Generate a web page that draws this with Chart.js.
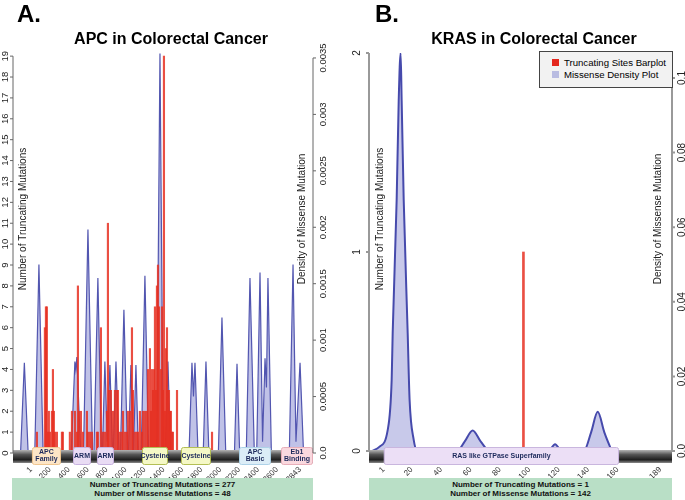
<!DOCTYPE html>
<html>
<head>
<meta charset="utf-8">
<script src="https://cdn.jsdelivr.net/npm/chart.js@4.4.1/dist/chart.umd.min.js"></script>
<style>
  body { margin: 0; background: #fff; font-family: "Liberation Sans", Arial, sans-serif; }
  #wrap { position: relative; width: 685px; height: 500px; overflow: hidden; }
  .box { position: absolute; top: 0; height: 500px; }
  .tag { position: absolute; top: 2px; font-weight: bold; font-size: 24px; line-height: 24px; }
  .title { position: absolute; top: 31px; font-weight: bold; font-size: 16px; line-height: 16px; white-space: nowrap; transform: translateX(-50%); }
  .summary { position: absolute; top: 478px; height: 22px; background: #b9dfc6; font-size: 8px; font-weight: bold;
             line-height: 9px; text-align: center; padding-top: 2px; box-sizing: border-box; color: #111; }
  .legend { position: absolute; left: 539px; top: 51px; width: 134px; height: 37px; box-sizing: border-box;
            border: 1.5px solid #444; background: #f2f2f2; font-size: 9.6px; }
  .legend div { position: absolute; left: 24px; white-space: nowrap; line-height: 12px; }
  .legend span { position: absolute; left: -12px; top: 2px; width: 7px; height: 7px; }
</style>
</head>
<body>
<div id="wrap">
  <div class="box" style="left:0;width:340px"><canvas id="apcChart"></canvas></div>
  <div class="box" style="left:340px;width:345px"><canvas id="krasChart"></canvas></div>
  <div class="tag" style="left:17px">A.</div>
  <div class="tag" style="left:375px">B.</div>
  <div class="title" style="left:171px">APC in Colorectal Cancer</div>
  <div class="title" style="left:534px">KRAS in Colorectal Cancer</div>
  <div class="legend">
    <div style="top:5px"><span style="background:#e4281e"></span>Truncating Sites Barplot</div>
    <div style="top:17px"><span style="background:#b9bce1"></span>Missense Density Plot</div>
  </div>
  <div class="summary" style="left:12px;width:301px">Number of Truncating Mutations = 277<br>Number of Missense Mutations = 48</div>
  <div class="summary" style="left:369px;width:303px">Number of Truncating Mutations = 1<br>Number of Missense Mutations = 142</div>
</div>
<script>
// ---- APC (panel A) ----
const apcTicks = [1, 200, 400, 600, 800, 1000, 1200, 1400, 1600, 1800, 2000, 2200, 2400, 2600, 2843];
const apcCountTicks = [0, 1, 2, 3, 4, 5, 6, 7, 8, 9, 10, 11, 12, 13, 14, 15, 16, 17, 18, 19];
const apcDensityTicks = [0, 0.0005, 0.001, 0.0015, 0.002, 0.0025, 0.003, 0.0035];

const apcTruncPos = [63, 147, 158, 168, 179, 189, 200, 221, 232, 242, 253, 274, 327, 337, 411, 433, 464, 485, 496, 507,
  528, 549, 591, 602, 623, 644, 697, 707, 739, 760, 781, 802, 813, 824, 845, 866, 887, 908, 919, 940, 961, 972, 993,
  1014, 1024, 1046, 1067, 1077, 1098, 1119, 1130, 1151, 1172, 1183, 1204, 1225, 1236, 1257, 1268, 1278, 1289, 1300,
  1310, 1321, 1331, 1342, 1352, 1373, 1384, 1394, 1405, 1416, 1426, 1437, 1447, 1458, 1468, 1479, 1490, 1500, 1543, 1913];
const apcTruncCount = [1, 6, 7, 7, 1, 2, 1, 2, 4, 2, 1, 1, 1, 1, 1, 2, 2, 1, 8, 2,
  2, 1, 2, 1, 1, 1, 1, 1, 6, 1, 1, 2, 11, 3, 3, 2, 3, 3, 3, 1, 1, 2, 1,
  1, 2, 2, 6, 3, 1, 1, 1, 2, 1, 2, 2, 2, 4, 5, 2, 4, 3, 4,
  7, 3, 8, 9, 7, 4, 7, 3, 19, 2, 5, 6, 3, 3, 2, 2, 1, 1, 3, 1];

const apcDensPos = [-110, -70, -30, 40, 84, 128, 425, 464, 474, 485, 525, 555, 602, 650, 665, 707, 745, 755, 781, 806,
  834, 862, 870, 898, 930, 945, 982, 1020, 1030, 1056, 1082, 1085, 1109, 1135, 1165, 1204, 1243, 1328, 1363, 1398,
  1420, 1447, 1475, 1670, 1701, 1717, 1733, 1765, 1820, 1849, 1880, 1980, 2018, 2058, 2150, 2177, 2205, 2275, 2314,
  2335, 2360, 2385, 2420, 2447, 2473, 2488, 2504, 2540, 2730, 2769, 2800, 2843, 2880];
const apcDensVal = [0, 0.00080, 0, 0, 0.00167, 0, 0, 0.00081, 0.00074, 0.00085, 0, 0, 0.00198, 0, 0, 0.00155, 0, 0, 0.00081, 0.00010,
  0.00078, 0, 0, 0.00081, 0, 0, 0.00127, 0, 0, 0.00078, 0, 0, 0.00078, 0, 0, 0.00157, 0, 0, 0.00354, 0,
  0, 0.00081, 0, 0, 0.00080, 0.00050, 0.00080, 0, 0, 0.00081, 0, 0, 0.00120, 0, 0, 0.00079, 0, 0, 0.00155,
  0.00085, 0, 0, 0.00160, 0.00010, 0.00084, 0.00058, 0.00155, 0, 0, 0.00167, 0.00010, 0.00080, 0];

const apcDomainName = ['APC\nFamily', 'ARM', 'ARM', 'Cysteine', 'Cysteine', 'APC\nBasic', 'Eb1\nBinding'];
const apcDomainStart = [10, 444, 697, 1173, 1585, 2198, 2642];
const apcDomainEnd = [317, 634, 877, 1448, 1902, 2536, 2980];

// ---- KRAS (panel B) ----
const krasTicks = [1, 20, 40, 60, 80, 100, 120, 140, 160, 189];
const krasCountTicks = [0, 1, 2];
const krasDensityTicks = [0, 0.02, 0.04, 0.06, 0.08, 0.1];
const krasTruncPos = [96];
const krasTruncCount = [1];
const krasDensPos = [-7, -2, 3.7, 6.4, 7.1, 9.8, 11.2, 12.5, 13.2, 14.6, 17.3, 18.6, 21.4, 24,
  51, 56, 61.5, 67, 73, 113, 117.5, 122, 137, 142, 146.5, 151, 156];
const krasDensVal = [0, 0.0011, 0.0056, 0.019, 0.0316, 0.0673, 0.094, 0.1067, 0.094, 0.0673, 0.0316, 0.0137, 0.003, 0,
  0, 0.0025, 0.0055, 0.0025, 0, 0, 0.0018, 0, 0, 0.005, 0.0105, 0.005, 0];
const krasDomainName = ['RAS like GTPase Superfamily'];
const krasDomainStart = [1];
const krasDomainEnd = [161];

// domain box colours
const apcDomainFill = ['#fde5c6', '#e9dcf4', '#e9dcf4', '#f5f8c6', '#f5f8c6', '#dcedf7', '#f9d8de'];
const apcDomainEdge = ['#f0c690', '#c8b3e0', '#c8b3e0', '#b4bf55', '#b4bf55', '#aed2e8', '#e8afba'];
const krasDomainFill = ['#ecdff6'];
const krasDomainEdge = ['#c9b6de'];

const FONT = '"Liberation Sans", Arial, sans-serif';

const domainBar = {
  id: 'domainBar',
  afterDatasetsDraw(chart, args, o) {
    const ctx = chart.ctx, sx = chart.scales.x, ca = chart.chartArea;
    ctx.save();
    const g = ctx.createLinearGradient(0, o.barTop, 0, o.barBottom);
    g.addColorStop(0, '#b4b4b4');
    g.addColorStop(0.35, '#555');
    g.addColorStop(0.75, '#1e1e1e');
    g.addColorStop(1, '#8c8c8c');
    ctx.fillStyle = g;
    ctx.fillRect(ca.left, o.barTop, ca.right - ca.left, o.barBottom - o.barTop);
    o.names.forEach((name, i) => {
      const x0 = Math.max(ca.left, sx.getPixelForValue(o.start[i]));
      const x1 = Math.min(ca.right, sx.getPixelForValue(o.end[i]));
      ctx.beginPath();
      ctx.roundRect(x0 + 0.5, o.boxTop + 0.5, x1 - x0 - 1, o.boxBottom - o.boxTop - 1, 2);
      ctx.fillStyle = o.fill[i];
      ctx.fill();
      ctx.strokeStyle = o.edge[i];
      ctx.lineWidth = 1;
      ctx.stroke();
      const lines = name.split('\n');
      ctx.fillStyle = '#1d2a5c';
      ctx.font = 'bold 7px ' + FONT;
      ctx.textAlign = 'center';
      ctx.textBaseline = 'middle';
      const cy = (o.boxTop + o.boxBottom) / 2;
      lines.forEach((t, k) => ctx.fillText(t, (x0 + x1) / 2, cy + (k - (lines.length - 1) / 2) * 7));
    });
    ctx.restore();
  }
};

// R style axes: line from first to last tick, rotated labels, title inside the plot
const sideAxes = {
  id: 'sideAxes',
  afterDatasetsDraw(chart, args, o) {
    const ctx = chart.ctx, ca = chart.chartArea;
    ctx.save();
    ['y', 'y2'].forEach(id => {
      const s = chart.scales[id], left = id === 'y', dir = left ? -1 : 1;
      const xl = left ? ca.left : ca.right;
      const t = s.ticks;
      ctx.strokeStyle = o.color;
      ctx.lineWidth = o.width;
      ctx.beginPath();
      ctx.moveTo(xl, s.getPixelForValue(t[0].value));
      ctx.lineTo(xl, s.getPixelForValue(t[t.length - 1].value));
      t.forEach(tk => {
        const py = s.getPixelForValue(tk.value);
        ctx.moveTo(xl, py);
        ctx.lineTo(xl + dir * 3, py);
      });
      ctx.stroke();
      ctx.fillStyle = '#222';
      ctx.font = o.tickSize + 'px ' + FONT;
      ctx.textAlign = 'center';
      ctx.textBaseline = 'middle';
      t.forEach(tk => {
        ctx.save();
        ctx.translate(xl + dir * (left ? o.leftGap : o.rightGap), s.getPixelForValue(tk.value));
        ctx.rotate(-Math.PI / 2);
        ctx.fillText(tk.label, 0, 0);
        ctx.restore();
      });
      ctx.save();
      ctx.font = '10px ' + FONT;
      ctx.translate(xl - dir * (left ? o.leftTitle : o.rightTitle), o.titleY);
      ctx.rotate(-Math.PI / 2);
      ctx.fillText(s.options.title.text, 0, 0);
      ctx.restore();
    });
    ctx.restore();
  }
};

function makePanel(id, p) {
  return new Chart(document.getElementById(id), {
    type: 'bar',
    data: {
      datasets: [{
        type: 'line',
        label: 'Missense Density Plot',
        data: p.densPos.map((x, i) => ({ x: x, y: p.densVal[i] })),
        yAxisID: 'y2',
        borderColor: p.lineColor,
        backgroundColor: p.fillColor,
        borderWidth: p.lineWidth,
        fill: 'origin',
        pointRadius: 0,
        cubicInterpolationMode: p.smooth ? 'monotone' : 'default',
        tension: 0,
        order: 2
      }, {
        type: 'bar',
        label: 'Truncating Sites Barplot',
        data: p.truncPos.map((x, i) => ({ x: x, y: p.truncCount[i] })),
        yAxisID: 'y',
        backgroundColor: 'rgba(230, 48, 34, 0.85)',
        barThickness: p.barW,
        order: 1
      }]
    },
    options: {
      responsive: true,
      maintainAspectRatio: false,
      animation: false,
      layout: { padding: { top: p.top, left: 0, right: 0, bottom: 0 }, autoPadding: false },
      plugins: {
        legend: { display: false },
        tooltip: { enabled: false },
        domainBar: p.domains,
        sideAxes: p.axes
      },
      scales: {
        x: {
          type: 'linear', min: p.xMin, max: p.xMax, offset: false,
          grid: { display: false, drawTicks: false }, border: { display: false },
          afterBuildTicks: s => { s.ticks = p.xTicks.map(v => ({ value: v })); },
          ticks: { autoSkip: false, minRotation: 45, maxRotation: 45, padding: p.xPad,
                   color: '#333', font: { family: FONT, size: 8 }, callback: v => String(v) },
          afterFit: s => { s.height = p.xHeight; }
        },
        y: {
          position: 'left', min: 0, max: p.yMax,
          grid: { display: false }, border: { display: false },
          title: { display: false, text: 'Number of Truncating Mutations' },
          afterBuildTicks: s => { s.ticks = p.yTicks.map(v => ({ value: v })); },
          ticks: { display: false, callback: v => String(v) },
          afterFit: s => { s.width = p.leftW; }
        },
        y2: {
          position: 'right', min: 0, max: p.y2Max,
          grid: { display: false }, border: { display: false },
          title: { display: false, text: 'Density of Missense Mutation' },
          afterBuildTicks: s => { s.ticks = p.y2Ticks.map(v => ({ value: v })); },
          ticks: { display: false, callback: v => (v === 0 ? '0.0' : String(v)) },
          afterFit: s => { s.width = p.rightW; }
        }
      }
    },
    plugins: [domainBar, sideAxes]
  });
}

makePanel('apcChart', {
  densPos: apcDensPos, densVal: apcDensVal, truncPos: apcTruncPos, truncCount: apcTruncCount,
  xTicks: apcTicks, yTicks: apcCountTicks, y2Ticks: apcDensityTicks,
  xMin: -190, xMax: 2980, yMax: 19.15, y2Max: 0.003544,
  top: 53, xHeight: 47, xPad: 12, leftW: 13, rightW: 27, barW: 1.5, smooth: false,
  lineColor: 'rgb(82, 86, 176)', fillColor: 'rgba(150, 153, 215, 0.6)', lineWidth: 1.2,
  domains: { names: apcDomainName, start: apcDomainStart, end: apcDomainEnd, fill: apcDomainFill, edge: apcDomainEdge,
             barTop: 450, barBottom: 463, boxTop: 447, boxBottom: 465 },
  axes: { color: '#666', width: 1, tickSize: 9.5, leftGap: 8, rightGap: 10, leftTitle: 10, rightTitle: 11, titleY: 219 }
});

makePanel('krasChart', {
  densPos: krasDensPos, densVal: krasDensVal, truncPos: krasTruncPos, truncCount: krasTruncCount,
  xTicks: krasTicks, yTicks: krasCountTicks, y2Ticks: krasDensityTicks,
  xMin: -9, xMax: 197, yMax: 2, y2Max: 0.1067,
  top: 53, xHeight: 49, xPad: 14, leftW: 29, rightW: 13, barW: 2, smooth: true,
  lineColor: 'rgb(70, 74, 172)', fillColor: 'rgba(190, 192, 230, 0.85)', lineWidth: 2,
  domains: { names: krasDomainName, start: krasDomainStart, end: krasDomainEnd, fill: krasDomainFill, edge: krasDomainEdge,
             barTop: 450, barBottom: 463, boxTop: 447, boxBottom: 465 },
  axes: { color: '#999', width: 2, tickSize: 10, leftGap: 12, rightGap: 10, leftTitle: 11, rightTitle: 14, titleY: 219 }
});
</script>
</body>
</html>
